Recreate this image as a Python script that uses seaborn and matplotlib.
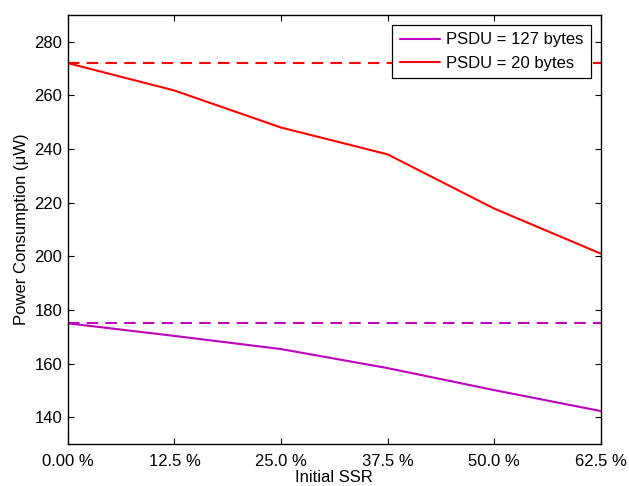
import matplotlib
matplotlib.use("Agg")
import matplotlib.pyplot as plt
import seaborn as sns
import pandas as pd

ssr = [0.0, 12.5, 25.0, 37.5, 50.0, 62.5]
tick_labels = ["0.00 %", "12.5 %", "25.0 %", "37.5 %", "50.0 %", "62.5 %"]
power_127 = [175.0, 170.3, 165.4, 158.3, 150.1, 142.3]
power_20 = [272.0, 261.8, 248.0, 238.0, 217.8, 201.0]
baseline_127 = 175.0
baseline_20 = 272.0
series_names = ["PSDU = 127 bytes", "PSDU = 20 bytes"]

sns.set_style("ticks")
plt.rcParams["font.family"] = ["Liberation Sans", "DejaVu Sans"]
plt.rcParams["text.color"] = "black"
plt.rcParams["axes.labelcolor"] = "black"
plt.rcParams["xtick.color"] = "black"
plt.rcParams["ytick.color"] = "black"
plt.rcParams["axes.edgecolor"] = "black"

df = pd.DataFrame({
    "x": ssr * 2,
    "y": power_127 + power_20,
    "series": [series_names[0]] * len(ssr) + [series_names[1]] * len(ssr),
})
palette = {series_names[0]: "#bf00bf", series_names[1]: "#ff0000"}

fig = plt.figure(figsize=(6.29, 4.86), dpi=100)
ax = fig.add_axes([0.108, 0.0864, 0.847, 0.883])
sns.lineplot(data=df, x="x", y="y", hue="series", palette=palette, ax=ax, linewidth=1.5)
ax.axhline(baseline_127, color="#bf00bf", linestyle=(0, (5.5, 3.5)), linewidth=1.5)
ax.axhline(baseline_20, color="#ff0000", linestyle=(0, (5.5, 3.5)), linewidth=1.5)

ax.set_xlim(0, 62.5)
ax.set_ylim(130, 290)
ax.set_xticks(ssr)
ax.set_xticklabels(tick_labels)
ax.set_yticks([140, 160, 180, 200, 220, 240, 260, 280])
ax.tick_params(direction="in", top=True, right=True, length=4, labelsize=12, width=0.8)
ax.tick_params(axis="x", pad=7)
ax.tick_params(axis="y", pad=4)
for s in ax.spines.values():
    s.set_linewidth(1.0)
    s.set_visible(True)
ax.set_xlabel("Initial SSR", fontsize=12, labelpad=1)
ax.set_ylabel("Power Consumption (\u03bcW)", fontsize=12, labelpad=4)
leg = ax.legend(loc="upper right", fontsize=12, frameon=True, fancybox=False,
                edgecolor="black", framealpha=1, borderaxespad=0.6, handlelength=2.4,
                handletextpad=0.35, labelspacing=0.5, borderpad=0.45)
leg.get_frame().set_linewidth(0.9)
leg.set_zorder(10)
leg.set_title(None)

fig.savefig("out.png", dpi=100)
